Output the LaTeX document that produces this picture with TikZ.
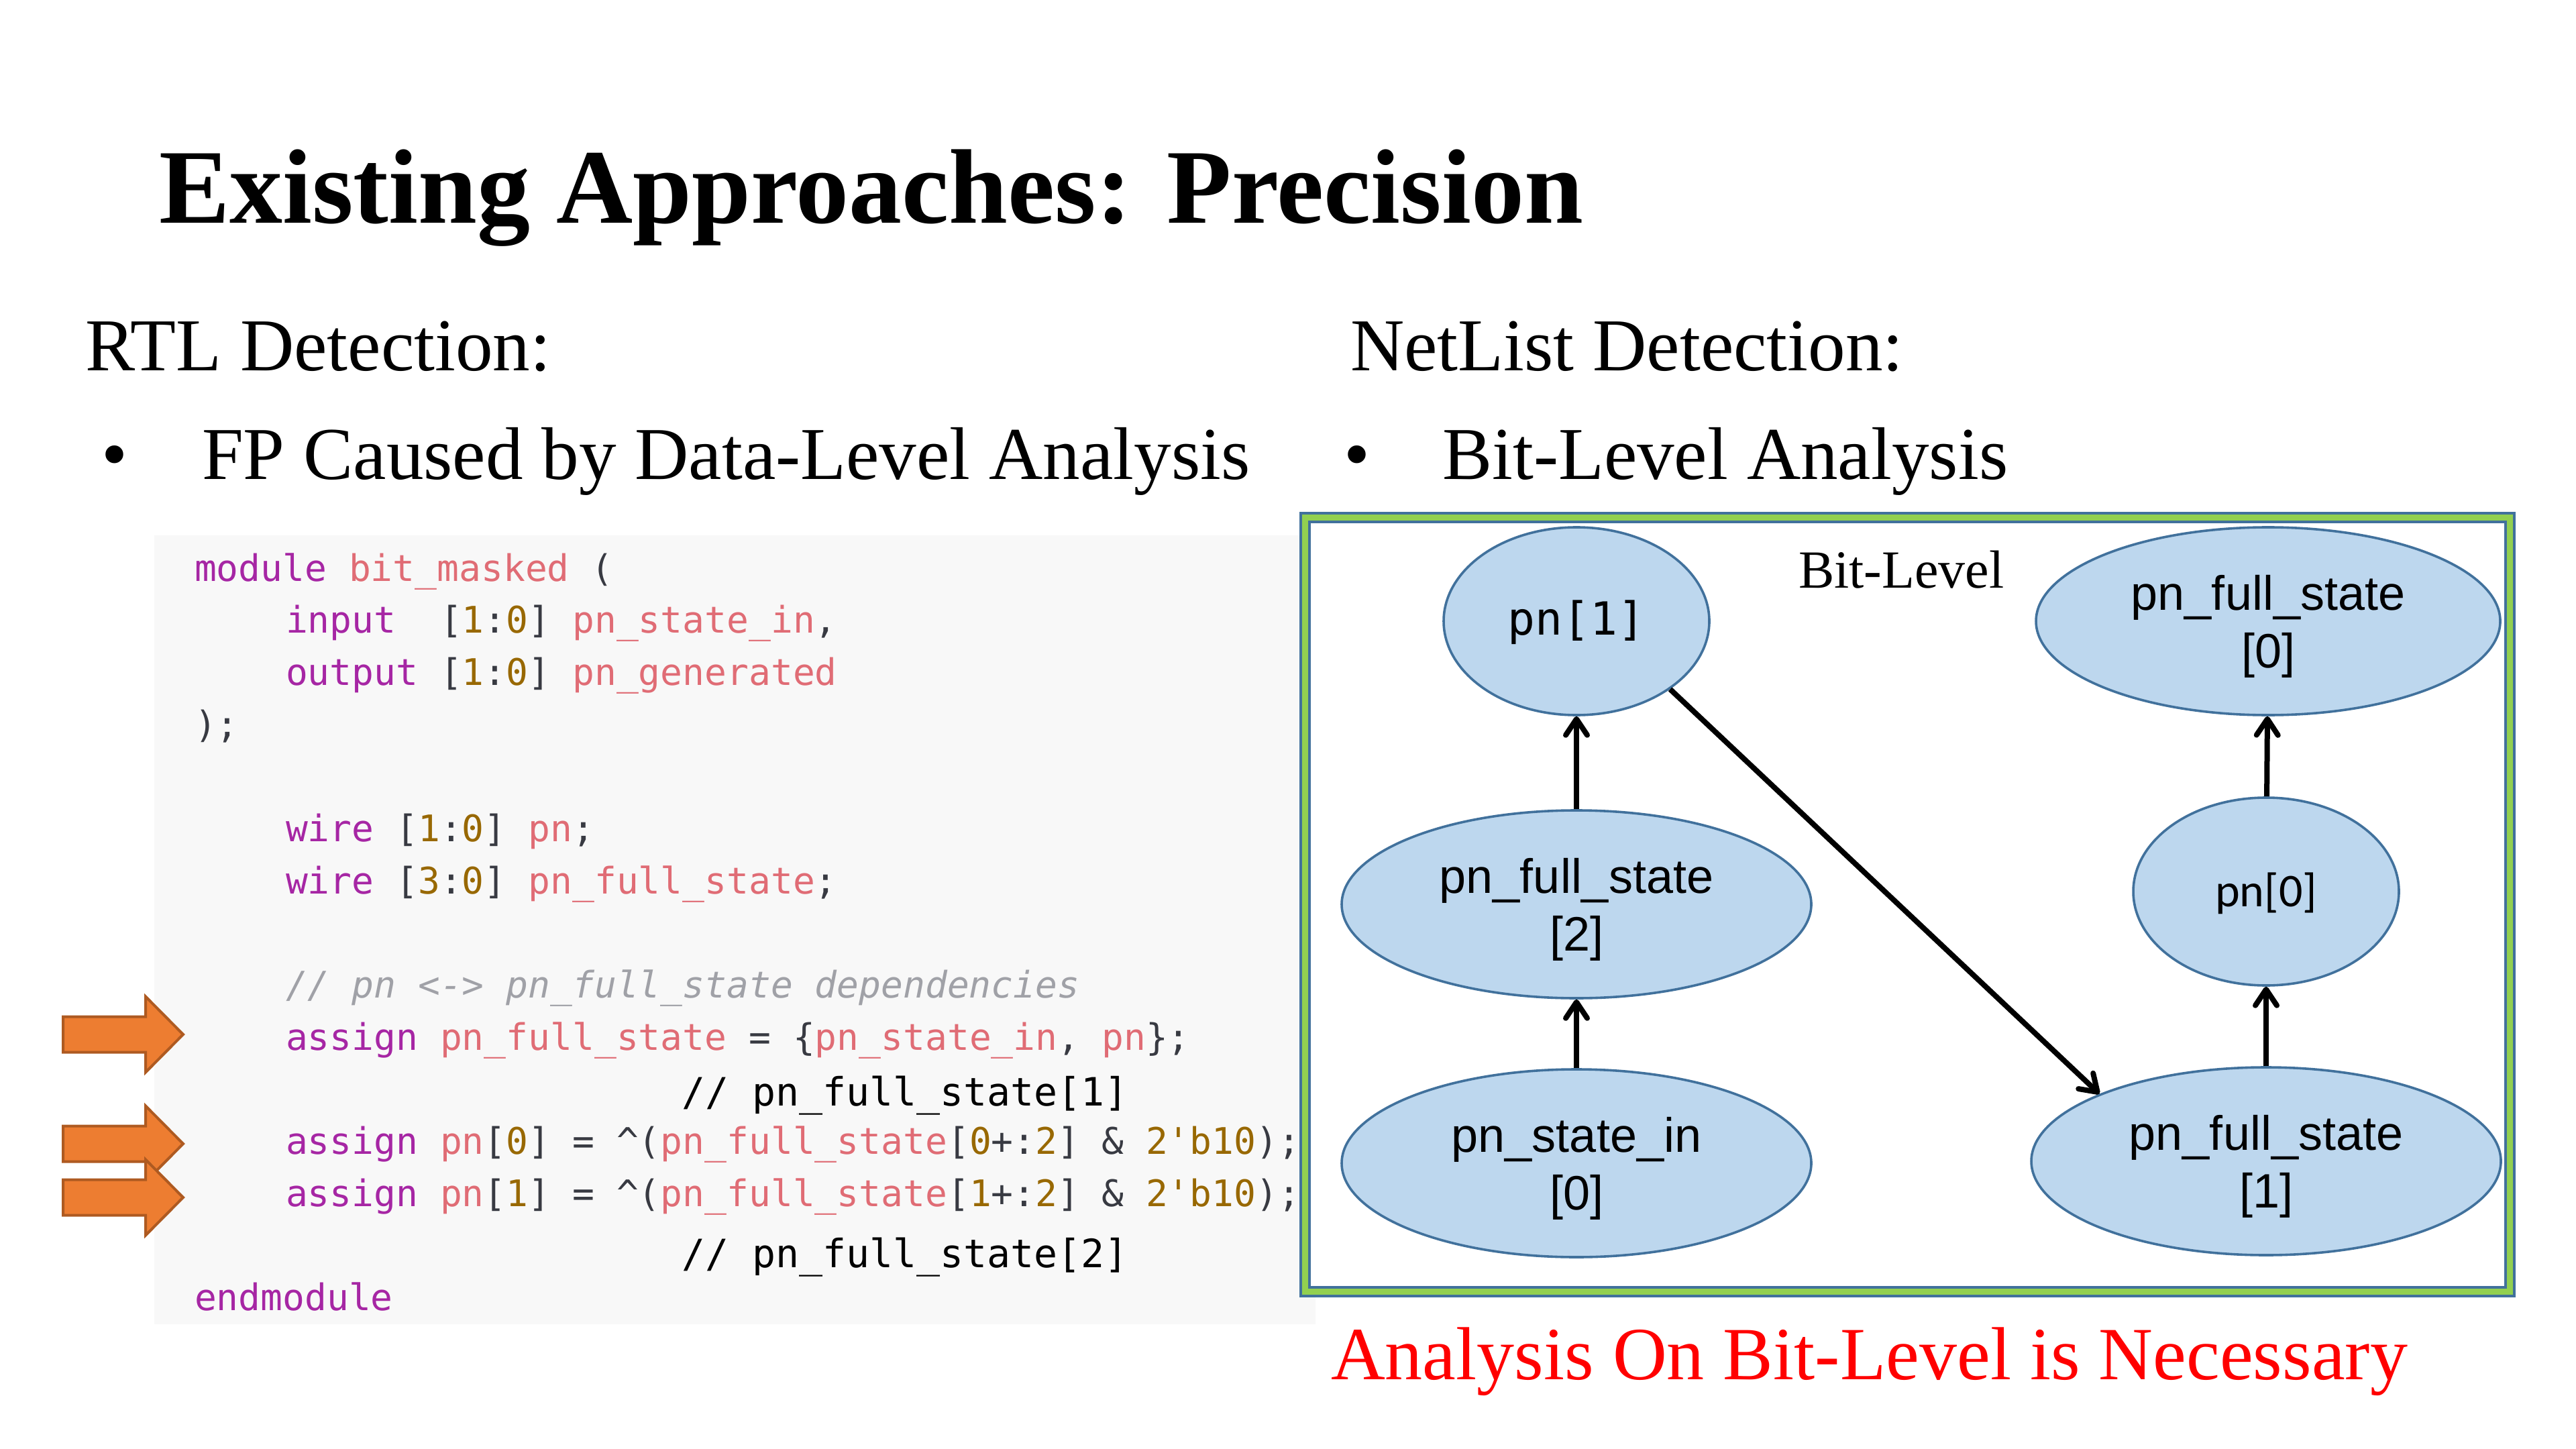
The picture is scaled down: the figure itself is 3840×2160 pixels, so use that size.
\documentclass[tikz,border=0pt]{standalone}
\usepackage{fontspec}
\setmainfont{Liberation Serif}
\setmonofont{DejaVu Sans Mono}
\newfontfamily\arialf{Liberation Sans}
\newfontfamily\calibf{Carlito}
\usetikzlibrary{arrows.meta,shapes.geometric}
\definecolor{ckw}{HTML}{A626A4}
\definecolor{cid}{HTML}{E06C75}
\definecolor{cnum}{HTML}{986801}
\definecolor{cpun}{HTML}{383A42}
\definecolor{ccom}{HTML}{A0A1A7}
\definecolor{codebg}{HTML}{F8F8F8}
\definecolor{nodefill}{HTML}{BDD7EE}
\definecolor{nodeline}{HTML}{41719C}
\definecolor{framegreen}{HTML}{92D050}
\definecolor{arrfill}{HTML}{ED7D31}
\definecolor{arrline}{HTML}{AE5A21}
\newcommand\cK[1]{\textcolor{ckw}{#1}}
\newcommand\cI[1]{\textcolor{cid}{#1}}
\newcommand\cN[1]{\textcolor{cnum}{#1}}
\newcommand\cP[1]{\textcolor{cpun}{#1}}
\newcommand\cC[1]{\textcolor{ccom}{\itshape #1}}
\newcommand\lblstrut{\rule{0pt}{16.8pt}}
\begin{document}
\begin{tikzpicture}[x=0.25pt,y=-0.25pt,
  txt/.style={anchor=base west,inner sep=0pt,outer sep=0pt},
  ctr/.style={anchor=base,inner sep=0pt,outer sep=0pt},
  code/.style={txt,font=\ttfamily\fontsize{13.65}{16}\selectfont},
  blackcom/.style={txt,font=\ttfamily\fontsize{14.55}{18}\selectfont},
  body/.style={txt,font=\fontsize{27.8}{34}\selectfont},
  bignode/.style={ellipse,draw=nodeline,fill=nodefill,line width=0.9pt,inner sep=0pt,
    minimum width=175pt,minimum height=70pt,align=center,
    font=\arialf\fontsize{18}{21.5}\selectfont},
  smallnode/.style={bignode,minimum width=99pt},
  edge/.style={line width=2pt,-{Straight Barb[length=6pt,width=8pt,round]}},
  blockarrow/.style={fill=arrfill,draw=arrline,line width=1pt,line join=miter}
]
\useasboundingbox (0,0) rectangle (3840,2160);
\fill[white] (0,0) rectangle (3840,2160);

% title and headings
\node[txt,font=\bfseries\fontsize{39.5}{48}\selectfont] (title) at (237,333) {Existing Approaches: Precision};
\node[body] (rtl) at (127,553) {RTL Detection:};
\node[body] (net) at (2013,553) {NetList Detection:};
\node[ctr,font=\fontsize{27.8}{34}\selectfont] (b1) at (171,715) {•};
\node[body] (fp) at (301,715) {FP Caused by Data-Level Analysis};
\node[ctr,font=\fontsize{27.8}{34}\selectfont] (b2) at (2023,715) {•};
\node[body] (bla) at (2150,715) {Bit-Level Analysis};

% code block
\fill[codebg] (230,798) rectangle (1961,1974);
\node[code] (c0) at (290,866) {\cK{module} \cI{bit\_masked} \cP{(}};
\node[code] (c1) at (426,943.6) {\cK{input}~ \cP{[}\cN{1}\cP{:}\cN{0}\cP{]} \cI{pn\_state\_in}\cP{,}};
\node[code] (c2) at (426,1021.3) {\cK{output} \cP{[}\cN{1}\cP{:}\cN{0}\cP{]} \cI{pn\_generated}};
\node[code] (c3) at (290,1099) {\cP{);}};
\node[code] (c5) at (426,1254.5) {\cK{wire} \cP{[}\cN{1}\cP{:}\cN{0}\cP{]} \cI{pn}\cP{;}};
\node[code] (c6) at (426,1332.2) {\cK{wire} \cP{[}\cN{3}\cP{:}\cN{0}\cP{]} \cI{pn\_full\_state}\cP{;}};
\node[code] (c8) at (426,1487.4) {\cC{// pn <-> pn\_full\_state dependencies}};
\node[code] (c9) at (426,1565) {\cK{assign} \cI{pn\_full\_state} \cP{= \{}\cI{pn\_state\_in}\cP{,} \cI{pn}\cP{\};}};
\node[blackcom] (cm1) at (1016,1648) {// pn\_full\_state[1]};
\node[code] (c11) at (426,1720.4) {\cK{assign} \cI{pn}\cP{[}\cN{0}\cP{]} \cP{= \textasciicircum(}\cI{pn\_full\_state}\cP{[}\cN{0}\cP{+:}\cN{2}\cP{]} \cP{\&} \cN{2'b10}\cP{);}};
\node[code] (c12) at (426,1798.1) {\cK{assign} \cI{pn}\cP{[}\cN{1}\cP{]} \cP{= \textasciicircum(}\cI{pn\_full\_state}\cP{[}\cN{1}\cP{+:}\cN{2}\cP{]} \cP{\&} \cN{2'b10}\cP{);}};
\node[blackcom] (cm2) at (1016,1889) {// pn\_full\_state[2]};
\node[code] (c14) at (290,1953.5) {\cK{endmodule}};

% orange block arrows
\foreach \yy in {1542,1705,1785}{
  \draw[blockarrow] (94,\yy-26.5) -- (217,\yy-26.5) -- (217,\yy-56.5) -- (273,\yy) -- (217,\yy+56.5) -- (217,\yy+26.5) -- (94,\yy+26.5) -- cycle;
}

% graph frame
\fill[white] (1950,776) rectangle (3737,1921);
\draw[nodeline,line width=4.25pt] (1945.5,771.5) rectangle (3741.5,1925.5);
\draw[framegreen,line width=2.25pt] (1945.5,771.5) rectangle (3741.5,1925.5);

\node[txt,font=\fontsize{20}{24}\selectfont] (bitlevel) at (2681,876) {Bit-Level};

% graph nodes
\node[smallnode,font=\ttfamily\fontsize{17}{20}\selectfont] (p1) at (2350,926) {\rule{0pt}{14pt}pn[1]};
\node[bignode] (fs2) at (2350,1348) {\lblstrut pn\_full\_state\\{}[2]};
\node[bignode] (si0) at (2350,1734) {\lblstrut pn\_state\_in\\{}[0]};
\node[bignode,minimum width=173pt] (fs0) at (3381,926) {\lblstrut pn\_full\_state\\{}[0]};
\node[smallnode,font=\calibf\fontsize{17.5}{21}\selectfont] (pn0) at (3378,1329) {\rule{0pt}{14pt}pn[0]};
\node[bignode] (fs1) at (3378,1731) {\lblstrut pn\_full\_state\\{}[1]};

% edges
\draw[edge] (si0) -- (fs2);
\draw[edge] (fs2) -- (p1);
\draw[edge] (p1.-36) -- (fs1.158);
\draw[edge] (fs1) -- (pn0);
\draw[edge] (pn0) -- (fs0);

% conclusion
\node[txt,text=red,font=\fontsize{28}{34}\selectfont] (concl) at (1984,2056) {Analysis On Bit-Level is Necessary};
\end{tikzpicture}
\end{document}
